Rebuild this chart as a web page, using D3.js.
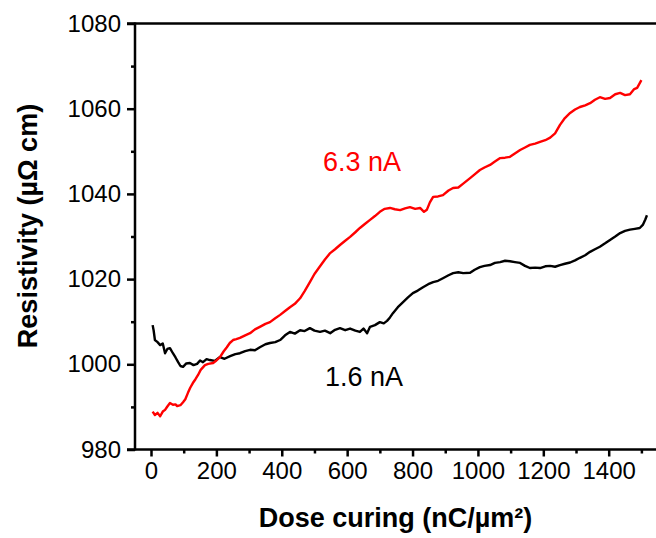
<!DOCTYPE html>
<html>
<head>
<meta charset="utf-8">
<script src="https://cdn.jsdelivr.net/npm/d3@7"></script>
<style>
  body { margin: 0; background: #fff; }
  svg { display: block; font-family: "Liberation Sans", Arial, sans-serif; }
</style>
</head>
<body>
<div id="main"><svg width="656" height="538"></svg></div>
<script>
// 1.6 nA curve (black)
var doseLow = [5, 8, 12, 20, 28, 36, 43, 50, 58, 67, 75, 83, 90, 98, 108, 119, 130, 141, 150, 159,
  170, 180, 195, 211, 225, 242, 258, 272, 288, 303, 318, 333, 350, 364, 380, 395, 410, 425, 440, 456,
  470, 486, 500, 517, 532, 548, 563, 578, 594, 609, 625, 639, 650, 661, 670, 685, 700, 712, 722, 731,
  740, 755, 771, 786, 801, 816, 832, 848, 863, 878, 893, 910, 924, 940, 955, 976, 990, 1006, 1020, 1037,
  1052, 1068, 1083, 1098, 1113, 1129, 1144, 1159, 1175, 1190, 1206, 1221, 1236, 1251, 1266, 1282, 1297, 1312, 1328, 1343,
  1358, 1373, 1389, 1404, 1420, 1435, 1450, 1465, 1480, 1495, 1505, 1512, 1517]
var resLow = [1009.2, 1008, 1005.7, 1005.2, 1004.5, 1004.9, 1002.6, 1003.6, 1003.8, 1002.6, 1001.6, 1000.5, 999.6, 999.4, 1000.2, 1000.3, 999.8, 1000.1, 1000.9, 1000.5,
  1001.2, 1001, 1000.8, 1001.7, 1001.3, 1001.9, 1002.4, 1002.6, 1003.1, 1003.4, 1003.3, 1004, 1004.7, 1005, 1005.2, 1005.7, 1006.8, 1007.6, 1007.2, 1008,
  1007.8, 1008.5, 1007.9, 1007.6, 1007.9, 1007.3, 1008.1, 1008.5, 1008, 1008.4, 1007.9, 1007.6, 1008.4, 1007.3, 1008.8, 1009.2, 1009.9, 1009.6, 1010.2, 1011,
  1012, 1013.4, 1014.6, 1015.7, 1016.7, 1017.3, 1018.1, 1018.8, 1019.3, 1019.6, 1020.2, 1020.9, 1021.4, 1021.6, 1021.4, 1021.5, 1022.2, 1022.8, 1023.1, 1023.3,
  1023.8, 1024, 1024.3, 1024.2, 1024, 1023.8, 1023.1, 1022.6, 1022.7, 1022.6, 1023, 1023.1, 1022.9, 1023.3, 1023.6, 1023.9, 1024.4, 1025, 1025.6, 1026.4,
  1027, 1027.6, 1028.4, 1029.2, 1030, 1030.8, 1031.3, 1031.6, 1031.8, 1032, 1032.8, 1034, 1035]

// 6.3 nA curve (red)
var doseHigh = [5, 12, 20, 28, 36, 43, 50, 58, 67, 75, 80, 90, 98, 105, 113, 120, 128, 136, 144, 152,
  165, 175, 190, 200, 211, 222, 232, 241, 251, 261, 272, 288, 303, 318, 333, 350, 364, 380, 395, 410,
  425, 440, 456, 470, 486, 500, 517, 532, 548, 563, 578, 594, 609, 625, 639, 655, 670, 685, 700, 715,
  731, 746, 762, 777, 792, 808, 823, 835, 844, 853, 863, 878, 893, 910, 924, 940, 955, 976, 990, 1006,
  1020, 1037, 1052, 1068, 1083, 1098, 1113, 1129, 1144, 1159, 1175, 1190, 1206, 1221, 1236, 1251, 1266, 1282, 1297, 1312,
  1328, 1343, 1358, 1373, 1389, 1404, 1420, 1435, 1450, 1465, 1478, 1487, 1495, 1500]
var resHigh = [988.9, 988.1, 988.6, 987.8, 988.9, 989.3, 990.1, 990.9, 990.5, 990.6, 990.2, 990.4, 991.1, 991.8, 993.3, 994.5, 995.6, 996.5, 997.5, 998.7,
  999.8, 1000.1, 1000.3, 1000.9, 1001.7, 1003, 1004, 1005, 1005.7, 1005.9, 1006.2, 1006.8, 1007.3, 1008.2, 1008.8, 1009.5, 1009.9, 1010.8, 1011.6, 1012.5,
  1013.4, 1014.2, 1015.5, 1017.2, 1019.3, 1021.2, 1023, 1024.6, 1026.1, 1027, 1028, 1029, 1029.9, 1031, 1032, 1033, 1033.9, 1034.8, 1035.8, 1036.5,
  1036.7, 1036.4, 1036.2, 1036.6, 1036.9, 1036.5, 1036.7, 1035.8, 1036.3, 1038, 1039.3, 1039.4, 1039.7, 1040.8, 1041.4, 1041.5, 1042.4, 1043.7, 1044.6, 1045.6,
  1046.2, 1046.8, 1047.6, 1048.4, 1048.5, 1048.7, 1049.5, 1050.3, 1050.9, 1051.5, 1051.8, 1052.2, 1052.6, 1053.2, 1054.2, 1056.2, 1057.8, 1059, 1059.8, 1060.4,
  1060.8, 1061.3, 1062.1, 1062.7, 1062.3, 1062.5, 1063.4, 1063.7, 1063.2, 1063.4, 1064.6, 1064.9, 1066, 1066.7]

var xTicks = [0, 200, 400, 600, 800, 1000, 1200, 1400]
var xMinorTicks = [100, 300, 500, 700, 900, 1100, 1300, 1500]
var yTicks = [980, 1000, 1020, 1040, 1060, 1080]
var yMinorTicks = [990, 1010, 1030, 1050, 1070]

var config = {
  width: 656,
  height: 538,
  left: 135,
  right: 656,
  top: 23.5,
  bottom: 449.5,
  axisWidth: 2.5
}

var svg = d3.select('#main svg')

var x = d3.scaleLinear().domain([0, 1400]).range([151, 608.7])
var y = d3.scaleLinear().domain([980, 1080]).range([config.bottom, config.top])

svg.append('rect')
    .attr('width', config.width)
    .attr('height', config.height)
    .attr('fill', '#fff')

svg.append('defs').append('clipPath')
    .attr('id', 'plot-clip')
  .append('rect')
    .attr('x', config.left)
    .attr('y', config.top)
    .attr('width', config.right - config.left)
    .attr('height', config.bottom - config.top)

function drawCurve (dose, res, color) {
  var pts = dose.map((d, i) => [d, res[i]])
  var line = d3.line()
      .x(_ => x(_[0]))
      .y(_ => y(_[1]))

  svg.append('path')
      .datum(pts)
      .attr('clip-path', 'url(#plot-clip)')
      .attr('fill', 'none')
      .attr('stroke', color)
      .attr('stroke-width', 2.4)
      .attr('stroke-linejoin', 'round')
      .attr('d', line)
}

drawCurve(doseLow, resLow, '#000')
drawCurve(doseHigh, resHigh, '#ff0000')

function styleAxis (g) {
  g.select('.domain').remove()
  g.selectAll('line').attr('stroke', '#000').attr('stroke-width', config.axisWidth)
  g.selectAll('text')
      .attr('fill', '#000')
      .style('font-size', '24px')
      .style('font-family', '"Liberation Sans", Arial, sans-serif')
}

// left axis
svg.append('g')
    .attr('transform', `translate(${config.left}, 0)`)
    .call(d3.axisLeft(y).tickValues(yTicks).tickSize(8).tickPadding(6).tickFormat(d3.format('d')))
    .call(styleAxis)

svg.append('g')
    .attr('transform', `translate(${config.left}, 0)`)
    .call(d3.axisLeft(y).tickValues(yMinorTicks).tickSize(4).tickFormat(''))
    .call(styleAxis)

// bottom axis
svg.append('g')
    .attr('transform', `translate(0, ${config.bottom})`)
    .call(d3.axisBottom(x).tickValues(xTicks).tickSize(7).tickPadding(5).tickFormat(d3.format('d')))
    .call(styleAxis)

svg.append('g')
    .attr('transform', `translate(0, ${config.bottom})`)
    .call(d3.axisBottom(x).tickValues(xMinorTicks).tickSize(4).tickFormat(''))
    .call(styleAxis)

// frame lines
svg.append('line')
    .attr('x1', config.left).attr('x2', config.left)
    .attr('y1', config.top - 1).attr('y2', config.bottom + 1)
    .attr('stroke', '#000').attr('stroke-width', config.axisWidth)

svg.append('line')
    .attr('x1', 127).attr('x2', config.right)
    .attr('y1', config.bottom).attr('y2', config.bottom)
    .attr('stroke', '#000').attr('stroke-width', config.axisWidth)

svg.append('line')
    .attr('x1', config.left - 8).attr('x2', config.right)
    .attr('y1', config.top).attr('y2', config.top)
    .attr('stroke', '#000').attr('stroke-width', config.axisWidth)

// axis titles
svg.append('text')
    .attr('x', (config.left + config.right) / 2)
    .attr('y', 527)
    .attr('text-anchor', 'middle')
    .style('font-size', '27px')
    .style('font-weight', 'bold')
    .text('Dose curing (nC/µm²)')

svg.append('text')
    .attr('transform', 'translate(37, 226) rotate(-90)')
    .attr('text-anchor', 'middle')
    .style('font-size', '27px')
    .style('font-weight', 'bold')
    .text('Resistivity (µΩ cm)')

// curve labels
svg.append('text')
    .attr('x', 323)
    .attr('y', 171)
    .attr('fill', '#ff0000')
    .style('font-size', '27px')
    .text('6.3 nA')

svg.append('text')
    .attr('x', 325)
    .attr('y', 386)
    .attr('fill', '#000')
    .style('font-size', '27px')
    .text('1.6 nA')
</script>
</body>
</html>
